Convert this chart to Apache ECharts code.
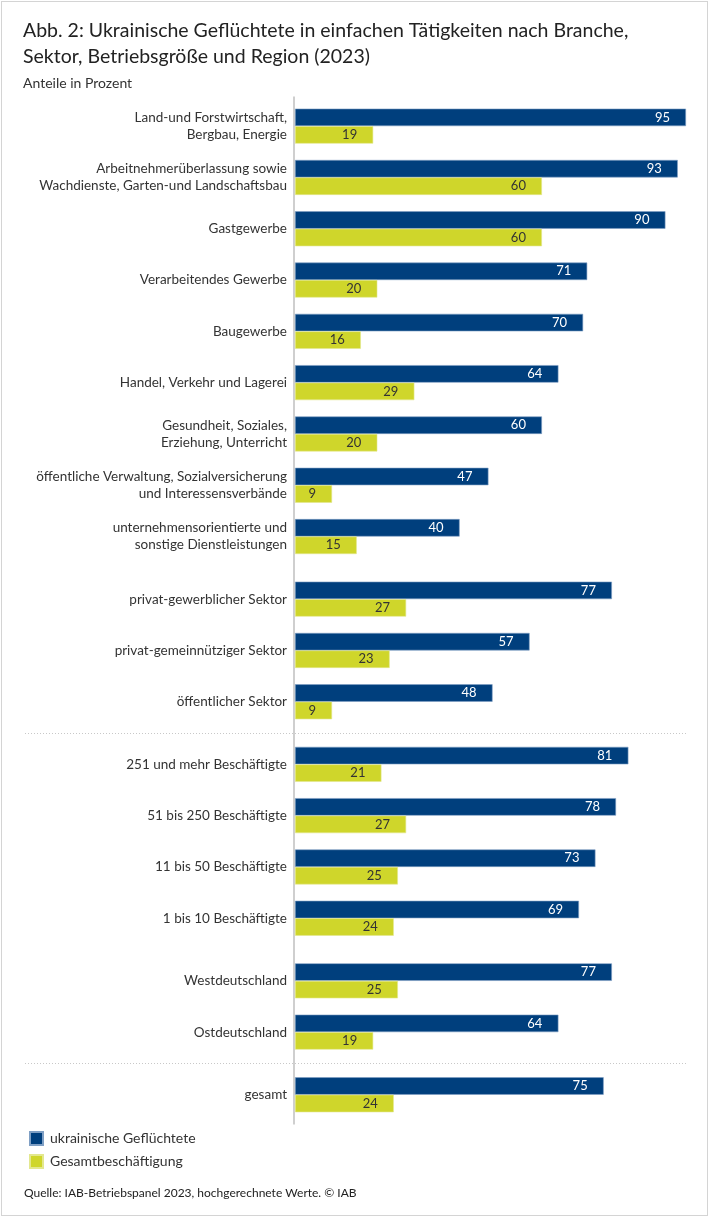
<!DOCTYPE html>
<html>
<head>
<meta charset="utf-8">
<script src="https://cdn.jsdelivr.net/npm/echarts@6/dist/echarts.min.js"></script>
<style>
html,body{margin:0;padding:0;background:#fff;}
#frame{position:absolute;left:1px;top:1px;width:705px;height:1213px;border:1px solid #d4d4d4;}
#chart{position:absolute;left:0;top:0;width:710px;height:1218px;}
</style>
</head>
<body>
<div id="frame"></div>
<div id="chart"></div>
<script>
// ---- data ----
const categories = [
  'Land-und Forstwirtschaft,\nBergbau, Energie',
  'Arbeitnehmerüberlassung sowie\nWachdienste, Garten-und Landschaftsbau',
  'Gastgewerbe',
  'Verarbeitendes Gewerbe',
  'Baugewerbe',
  'Handel, Verkehr und Lagerei',
  'Gesundheit, Soziales,\nErziehung, Unterricht',
  'öffentliche Verwaltung, Sozialversicherung\nund Interessensverbände',
  'unternehmensorientierte und\nsonstige Dienstleistungen',
  'privat-gewerblicher Sektor',
  'privat-gemeinnütziger Sektor',
  'öffentlicher Sektor',
  '251 und mehr Beschäftigte',
  '51 bis 250 Beschäftigte',
  '11 bis 50 Beschäftigte',
  '1 bis 10 Beschäftigte',
  'Westdeutschland',
  'Ostdeutschland',
  'gesamt'
];
const ukrainischeGefluechtete = [95, 93, 90, 71, 70, 64, 60, 47, 40, 77, 57, 48, 81, 78, 73, 69, 77, 64, 75];
const gesamtbeschaeftigung   = [19, 60, 60, 20, 16, 29, 20, 9, 15, 27, 23, 9, 21, 27, 25, 24, 25, 19, 24];
const groupSizes = [9, 3, 4, 2, 1];
const seriesNames = ['ukrainische Geflüchtete', 'Gesamtbeschäftigung'];

// ---- layout ----
const FONT = "Lato, 'Open Sans', sans-serif";
const BLUE = '#003f7d', YELLOW = '#cfd62b';
const rowH = 51.3, groupGap = 11.3, top0 = 100.5;
const gridLeft = 295, gridRight = 24;

const grids = [], xAxes = [], yAxes = [], series = [], graphics = [];
let startIdx = 0, gridTop = top0;
const gridBounds = [];
groupSizes.forEach((n, gi) => {
  const h = n * rowH;
  grids.push({left: gridLeft, right: gridRight, top: gridTop, height: h, containLabel: false});
  gridBounds.push([gridTop, gridTop + h]);
  xAxes.push({type: 'value', gridIndex: gi, min: 0, max: 95, show: false});
  yAxes.push({
    type: 'category', gridIndex: gi, inverse: true,
    data: categories.slice(startIdx, startIdx + n),
    axisLine: {show: false}, axisTick: {show: false},
    axisLabel: {color: '#333', fontSize: 13.5, fontFamily: FONT, margin: 8, lineHeight: 17, align: 'right'}
  });
  const mk = (name, vals, color, labColor) => ({
    name: name, type: 'bar', xAxisIndex: gi, yAxisIndex: gi,
    data: vals.slice(startIdx, startIdx + n), barWidth: 17.5, barGap: '0%',
    itemStyle: {color: color, borderColor: color === BLUE ? '#7f9fc4' : '#e3e88f', borderWidth: 0.6},
    label: {show: true, position: 'insideRight', distance: 16, color: labColor, fontSize: 13, fontFamily: FONT},
    silent: true, animation: false
  });
  series.push(mk(seriesNames[0], ukrainischeGefluechtete, BLUE, '#fff'));
  series.push(mk(seriesNames[1], gesamtbeschaeftigung, YELLOW, '#333'));
  startIdx += n;
  gridTop += h + groupGap;
});

// continuous axis line
graphics.push({type: 'line', shape: {x1: gridLeft - 1, y1: gridBounds[0][0] - 4, x2: gridLeft - 1, y2: gridBounds[gridBounds.length - 1][1] + 4},
  style: {stroke: '#cfcfcf', lineWidth: 2}, silent: true});
// dotted separators between group 2/3 and 4/5
[1, 3].forEach(i => {
  const y = Math.round((gridBounds[i][1] + gridBounds[i + 1][0]) / 2) + 0.5;
  graphics.push({type: 'line', shape: {x1: 25, y1: y, x2: 688, y2: y},
    style: {stroke: '#c8c8c8', lineWidth: 1, lineDash: [1, 2]}, silent: true});
});

const chart = echarts.init(document.getElementById('chart'), null, {renderer: 'canvas'});
chart.setOption({
  backgroundColor: 'transparent',
  animation: false,
  title: [
    {text: 'Abb. 2: Ukrainische Geflüchtete in einfachen Tätigkeiten nach Branche,\nSektor, Betriebsgröße und Region (2023)',
     left: 18, top: 13, textStyle: {fontFamily: FONT, fontSize: 19.5, fontWeight: 'normal', color: '#222', lineHeight: 26}},
    {text: 'Anteile in Prozent', left: 18, top: 71, textStyle: {fontFamily: FONT, fontSize: 14, fontWeight: 'normal', color: '#333'}},
    {text: 'Quelle: IAB-Betriebspanel 2023, hochgerechnete Werte. © IAB', left: 19, top: 1182,
     textStyle: {fontFamily: FONT, fontSize: 12, fontWeight: 'normal', color: '#222'}}
  ],
  legend: {
    orient: 'vertical', left: 24, top: 1126, itemWidth: 13, itemHeight: 13, itemGap: 8, icon: 'rect',
    data: seriesNames, selectedMode: false,
    textStyle: {fontFamily: FONT, fontSize: 14, color: '#333', padding: [0, 0, 0, 2]}
  },
  grid: grids, xAxis: xAxes, yAxis: yAxes, series: series, graphic: graphics
});
</script>
</body>
</html>
